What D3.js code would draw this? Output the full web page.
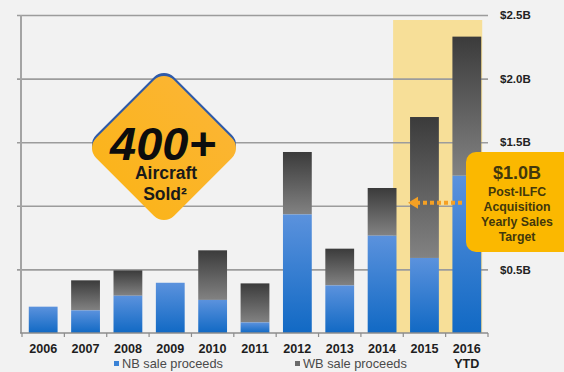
<!DOCTYPE html>
<html>
<head>
<meta charset="utf-8">
<script src="https://cdn.jsdelivr.net/npm/d3@7"></script>
<style>
  html, body { margin: 0; padding: 0; background: #f2f2f2; }
  svg { display: block; font-family: "Liberation Sans", Arial, sans-serif; }
</style>
</head>
<body>
<svg id="chart" width="564" height="372"></svg>
<script>
// Aircraft sale proceeds by year, $ billions
const years = ["2006", "2007", "2008", "2009", "2010", "2011", "2012", "2013", "2014", "2015", "2016"];
const yearSubLabels = ["", "", "", "", "", "", "", "", "", "", "YTD"];
const nbProceeds = [0.207, 0.178, 0.293, 0.395, 0.26, 0.083, 0.932, 0.374, 0.765, 0.59, 1.237];
const wbProceeds = [0, 0.236, 0.199, 0, 0.39, 0.307, 0.491, 0.289, 0.375, 1.108, 1.093];
const highlightYears = ["2015", "2016"];
const yTicks = [0.5, 1.0, 1.5, 2.0, 2.5];
const yTickLabels = ["$0.5B", "", "$1.5B", "$2.0B", "$2.5B"];
const salesTarget = 1.0;
const legendLabels = ["NB sale proceeds", "WB sale proceeds"];

const svg = d3.select("#chart");
const plotLeft = 22, plotRight = 488, plotTop = 15, plotBottom = 333;

const x = d3.scaleBand().domain(years).range([plotLeft, plotRight]).paddingInner(0.32).paddingOuter(0.16);
const y = d3.scaleLinear().domain([0, 2.5]).range([plotBottom, plotTop]);

// gradients
const defs = svg.append("defs");
const blue = defs.append("linearGradient").attr("id", "gNB").attr("x1", 0).attr("y1", 0).attr("x2", 0).attr("y2", 1);
blue.append("stop").attr("offset", 0).attr("stop-color", "#5b92dd");
blue.append("stop").attr("offset", 1).attr("stop-color", "#1169c4");
const gray = defs.append("linearGradient").attr("id", "gWB").attr("x1", 0).attr("y1", 0).attr("x2", 0).attr("y2", 1);
gray.append("stop").attr("offset", 0).attr("stop-color", "#3b3b3b");
gray.append("stop").attr("offset", 1).attr("stop-color", "#828282");
const dia = defs.append("linearGradient").attr("id", "gDia").attr("x1", 0).attr("y1", 0).attr("x2", 0).attr("y2", 1);
dia.append("stop").attr("offset", 0).attr("stop-color", "#fbb531");
dia.append("stop").attr("offset", 1).attr("stop-color", "#fbb41c");

// highlight band behind recent years
const step = x.step();
const hx0 = x(highlightYears[0]) - step * 0.4;
const hx1 = x(highlightYears[highlightYears.length - 1]) + x.bandwidth() + 1;
svg.append("rect")
  .attr("x", hx0).attr("y", plotTop + 5)
  .attr("width", hx1 - hx0).attr("height", plotBottom - plotTop - 5)
  .attr("fill", "#f7df98");

// gridlines + right axis labels
const yAxis = d3.axisRight(y)
  .tickValues(yTicks)
  .tickSize(-(plotRight - plotLeft) - 5)
  .tickPadding(12)
  .tickFormat((d, i) => yTickLabels[i]);
const gy = svg.append("g").attr("transform", `translate(${plotRight},0)`).call(yAxis);
gy.select(".domain").remove();
gy.selectAll(".tick line").attr("stroke", "#9c9c9c").attr("stroke-width", 1.6);
gy.selectAll(".tick text")
  .attr("fill", "#222").attr("font-size", 11.5).attr("font-weight", "bold");

// left axis line
svg.append("line")
  .attr("x1", plotLeft - 1).attr("x2", plotLeft - 1)
  .attr("y1", plotTop).attr("y2", plotBottom)
  .attr("stroke", "#a4a4a4").attr("stroke-width", 2);

// stacked bars
const bars = svg.append("g");
years.forEach((yr, i) => {
  const nb = nbProceeds[i], wb = wbProceeds[i];
  if (wb > 0) {
    bars.append("rect")
      .attr("x", x(yr)).attr("width", x.bandwidth())
      .attr("y", y(nb + wb)).attr("height", y(nb) - y(nb + wb))
      .attr("fill", "url(#gWB)");
  }
  bars.append("rect")
    .attr("x", x(yr)).attr("width", x.bandwidth())
    .attr("y", y(nb)).attr("height", y(0) - y(nb))
    .attr("fill", "url(#gNB)");
});

// x axis baseline with ticks between categories
svg.append("line")
  .attr("x1", plotLeft - 2).attr("x2", plotRight)
  .attr("y1", plotBottom).attr("y2", plotBottom)
  .attr("stroke", "#8c8c8c").attr("stroke-width", 1.6);
const halfGap = step * x.paddingInner() / 2;
const gapTicks = years.map(yr => x(yr) - halfGap).concat([x(years[years.length - 1]) + x.bandwidth() + halfGap]);
svg.append("g").selectAll("line").data(gapTicks).join("line")
  .attr("x1", d => d).attr("x2", d => d)
  .attr("y1", plotBottom).attr("y2", plotBottom + 4)
  .attr("stroke", "#8c8c8c").attr("stroke-width", 1.2);

// category labels
const xl = svg.append("g").attr("font-size", 12.6).attr("font-weight", "bold").attr("fill", "#1e1e1e").attr("text-anchor", "middle");
years.forEach((yr, i) => {
  const cx = x(yr) + x.bandwidth() / 2;
  xl.append("text").attr("x", cx).attr("y", 353).text(yr);
  if (yearSubLabels[i]) xl.append("text").attr("x", cx).attr("y", 368).text(yearSubLabels[i]);
});

// legend
const legend = [
  { label: legendLabels[0], color: "#3a82d6", x: 114 },
  { label: legendLabels[1], color: "#6a6a6a", x: 295 }
];
legend.forEach(l => {
  svg.append("rect").attr("x", l.x).attr("y", 361).attr("width", 5).attr("height", 5).attr("fill", l.color);
  svg.append("text").attr("x", l.x + 8).attr("y", 368)
    .attr("font-size", 12.8).attr("fill", "#4a4a4a").text(l.label);
});

// "400+ Aircraft Sold" diamond badge
const dcx = 164, dcy = 148, side = 110, r = 14;
const badge = svg.append("g").attr("transform", `translate(${dcx},${dcy})`);
badge.append("rect")
  .attr("x", -side / 2).attr("y", -side / 2).attr("width", side).attr("height", side)
  .attr("rx", r).attr("ry", r)
  .attr("transform", "translate(0,-3) rotate(45)")
  .attr("fill", "#2f5aa8");
badge.append("rect")
  .attr("x", -side / 2).attr("y", -side / 2).attr("width", side).attr("height", side)
  .attr("rx", r).attr("ry", r)
  .attr("transform", "rotate(45)")
  .attr("fill", "url(#gDia)");
badge.append("text").attr("x", -1).attr("y", 12)
  .attr("text-anchor", "middle").attr("font-size", 47).attr("font-weight", "bold").attr("font-style", "italic")
  .attr("fill", "#0d0d0d").text("400+");
badge.append("text").attr("x", 2).attr("y", 31)
  .attr("text-anchor", "middle").attr("font-size", 17.5).attr("font-weight", "bold")
  .attr("fill", "#1a1a1a").text("Aircraft");
badge.append("text").attr("x", 1).attr("y", 52)
  .attr("text-anchor", "middle").attr("font-size", 17.5).attr("font-weight", "bold")
  .attr("fill", "#1a1a1a").text("Sold²");

// dotted arrow pointing to the yearly sales target level
const ay = y(salesTarget) - 3;
svg.append("line")
  .attr("x1", 462).attr("x2", 417).attr("y1", ay).attr("y2", ay)
  .attr("stroke", "#f5a023").attr("stroke-width", 4).attr("stroke-dasharray", "4,3");
svg.append("path")
  .attr("d", `M408,${ay} L418,${ay - 6} L418,${ay + 6} Z`)
  .attr("fill", "#f5a023");

// target callout
svg.append("rect")
  .attr("x", 466).attr("y", 152).attr("width", 110).attr("height", 100)
  .attr("rx", 10).attr("ry", 10)
  .attr("fill", "#fbb800");
const callout = svg.append("g").attr("text-anchor", "middle").attr("fill", "#43380c").attr("font-weight", "bold");
callout.append("text").attr("x", 517).attr("y", 179).attr("font-size", 18).text("$1.0B");
const calloutLines = ["Post-ILFC", "Acquisition", "Yearly Sales", "Target"];
calloutLines.forEach((t, i) => {
  callout.append("text").attr("x", 517).attr("y", 195.5 + i * 15.2).attr("font-size", 12.3).text(t);
});
</script>
</body>
</html>
